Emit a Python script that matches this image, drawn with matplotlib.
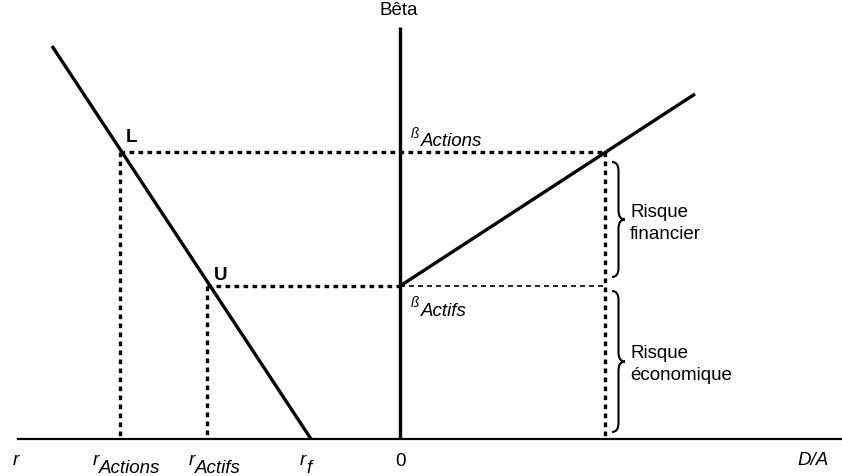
import matplotlib
matplotlib.use("Agg")
import matplotlib.pyplot as plt
from matplotlib.path import Path
import matplotlib.patches as mpatches

plt.rcParams['font.family'] = ['Liberation Sans', 'DejaVu Sans']

# diagram values (origin where the Bêta axis meets the horizontal axis)
r_f = -89
r_actifs = -193
r_actions = -280
beta_actifs = 153
beta_actions = 287
da_level = 205
sml_start = (-348, 393)      # upper end of the market line
lev_end = (295, 345)         # upper end of the leverage line
axis_x_range = (-382, 442)
axis_y_top = 412

FS = 13.5


def brace(ax, x0, y0, y1, w, r=9, lw=1.5):
    mid = (y0 + y1) / 2
    xm = x0 + w / 2
    verts = [(x0, y1), (xm, y1), (xm, y1 - r),
             (xm, mid + r),
             (xm, mid), (x0 + w, mid),
             (xm, mid), (xm, mid - r),
             (xm, y0 + r),
             (xm, y0), (x0, y0)]
    codes = [Path.MOVETO, Path.CURVE3, Path.CURVE3,
             Path.LINETO,
             Path.CURVE3, Path.CURVE3,
             Path.CURVE3, Path.CURVE3,
             Path.LINETO,
             Path.CURVE3, Path.CURVE3]
    ax.add_patch(mpatches.PathPatch(Path(verts, codes), fill=False, lw=lw, color='black'))


def sub_label(ax, x, y, base, sub, drop=8, fs=FS, base_fs=FS):
    ax.text(x, y, base, ha='right', va='baseline', fontsize=base_fs, style='italic')
    ax.text(x, y - drop, sub, ha='left', va='baseline', fontsize=fs, style='italic')


fig = plt.figure(figsize=(8.42, 4.77), dpi=100)
ax = fig.add_axes([0, 0, 1, 1])
ax.set_xlim(-400, 442)
ax.set_ylim(-37, 440)
ax.axis('off')

solid = dict(color='black', lw=2.4, solid_capstyle='butt')
dotted = dict(color='black', lw=2.4, linestyle=(0, (1.4, 1.3)))
dashed = dict(color='black', lw=1.2, linestyle=(0, (3.0, 2.4)))

# axes
ax.plot(axis_x_range, [0, 0], color='black', lw=1.6)
ax.plot([0, 0], [0, axis_y_top], **solid)

# market line and leverage line
ax.plot([sml_start[0], r_f], [sml_start[1], 0], **solid)
ax.plot([0, lev_end[0]], [beta_actifs, lev_end[1]], **solid)

# projections
ax.plot([r_actions, da_level], [beta_actions, beta_actions], **dotted)
ax.plot([r_actions, r_actions], [beta_actions, 0], **dotted)
ax.plot([r_actifs, 0], [beta_actifs, beta_actifs], **dotted)
ax.plot([0, da_level], [beta_actifs, beta_actifs], **dashed)
ax.plot([r_actifs, r_actifs], [beta_actifs, 0], **dotted)
ax.plot([da_level, da_level], [beta_actions, 0], **dotted)

# braces
brace(ax, da_level + 7, beta_actifs + 9, beta_actions - 10, 13)
brace(ax, da_level + 7, 7, beta_actifs - 5, 13)

ax.text(da_level + 25, 223, 'Risque', fontsize=FS, va='baseline')
ax.text(da_level + 25, 201, 'financier', fontsize=FS, va='baseline')
ax.text(da_level + 25, 82, 'Risque', fontsize=FS, va='baseline')
ax.text(da_level + 25, 60, 'économique', fontsize=FS, va='baseline')

# point labels
ax.text(r_actions + 6, beta_actions + 11, 'L', fontsize=FS, fontweight='bold', va='baseline')
ax.text(r_actifs + 7, beta_actifs + 7, 'U', fontsize=FS, fontweight='bold', va='baseline')

ax.text(-1, 425, 'Bêta', fontsize=FS, ha='center', va='baseline')
ax.text(11, beta_actions + 15, 'ß', fontsize=10, style='italic', va='baseline')
ax.text(21, beta_actions + 7, 'Actions', fontsize=FS, style='italic', va='baseline')
ax.text(11, beta_actifs - 20, 'ß', fontsize=10, style='italic', va='baseline')
ax.text(21, beta_actifs - 29, 'Actifs', fontsize=FS, style='italic', va='baseline')

# horizontal axis labels
ax.text(-384, -25, 'r', fontsize=FS, style='italic', ha='center', va='baseline')
sub_label(ax, r_actions - 21, -25, 'r', 'Actions')
sub_label(ax, r_actifs - 12, -25, 'r', 'Actifs')
sub_label(ax, r_f - 5, -25, 'r', 'f')
ax.text(0, -26, '0', fontsize=FS, ha='center', va='baseline')
ax.text(397, -25, 'D/A', fontsize=FS, style='italic', va='baseline')

fig.savefig('out.png', dpi=100)
